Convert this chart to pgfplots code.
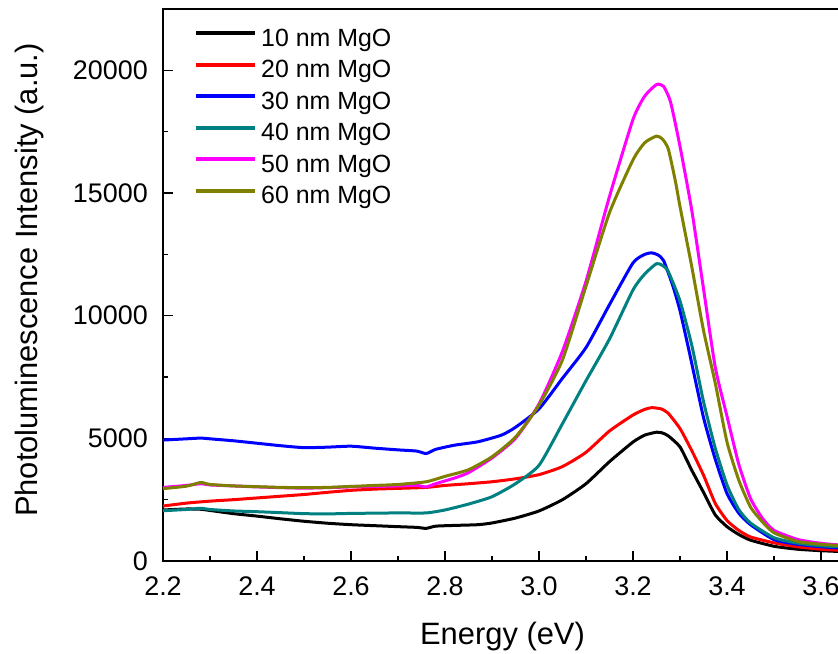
\documentclass[border=0pt]{standalone}
\usepackage{pgfplots}
\pgfplotsset{compat=1.18}
\usepackage{fontspec}
\setmainfont{Liberation Sans}
\definecolor{cteal}{RGB}{0,128,128}
\definecolor{colive}{RGB}{128,128,0}
\definecolor{cmag}{RGB}{255,0,255}
\definecolor{cred}{RGB}{255,0,0}
\definecolor{cblue}{RGB}{0,0,255}
\begin{document}
\begin{tikzpicture}
\begin{axis}[
  scale only axis,
  width=705bp, height=552bp,
  xmin=2.2, xmax=3.7, ymin=0, ymax=22500,
  xtick={2.2,2.4,2.6,2.8,3.0,3.2,3.4,3.6},
  ytick={0,5000,10000,15000,20000},
  minor x tick num=1, minor y tick num=1,
  xtick pos=left, ytick pos=left,
  tick align=inside,
  major tick length=10bp, minor tick length=5bp,
  every tick/.style={black, line width=1.5bp},
  axis line style={line width=1.8bp},
  scaled y ticks=false,
  /pgf/number format/assume math mode=true,
  tick label style={font=\fontsize{27}{30}\selectfont, inner sep=0pt},
  xticklabel style={/pgf/number format/fixed, /pgf/number format/fixed zerofill, /pgf/number format/precision=1, yshift=-16bp},
  yticklabel style={/pgf/number format/1000 sep={}, xshift=-15bp},
  every axis x label/.style={at={(axis description cs:0.4816,-0.1377)}, anchor=center, font=\fontsize{31}{36}\selectfont},
  every axis y label/.style={at={(axis description cs:-0.1887,0.509)}, rotate=90, anchor=center, font=\fontsize{31}{36}\selectfont},
  xlabel={Energy (eV)},
  ylabel={Photoluminescence Intensity (a.u.)},
  legend cell align=left,
  legend style={at={(axis description cs:0.0440,0.9656)}, anchor=north west, draw=none, fill=none, inner sep=0pt,
    font=\fontsize{25}{28}\selectfont, row sep=8.5bp, column sep=4bp,
    nodes={inner sep=0pt, text height=18bp, text depth=5bp}},
  legend image code/.code={\draw[#1, line width=4bp] (0bp,6.5bp) -- (59bp,6.5bp);},
  every axis plot/.append style={line width=3bp, line join=round, smooth, tension=0.35},
]
\coordinate (SW) at (rel axis cs:0,0);
\addplot[black] coordinates {(2.20,2080)(2.25,2120)(2.28,2110)(2.30,2060)(2.35,1930)(2.40,1830)(2.45,1720)(2.50,1620)(2.55,1540)(2.60,1480)(2.65,1440)(2.70,1400)(2.74,1370)(2.76,1330)(2.78,1420)(2.82,1450)(2.87,1480)(2.90,1550)(2.95,1750)(3.00,2040)(3.05,2500)(3.10,3150)(3.15,4050)(3.20,4850)(3.225,5130)(3.25,5250)(3.2625,5220)(3.275,5100)(3.30,4650)(3.325,3700)(3.35,2800)(3.375,1880)(3.40,1400)(3.425,1080)(3.45,850)(3.50,600)(3.55,480)(3.60,420)(3.65,380)(3.70,360)};
\addlegendentry{10 nm MgO}
\addplot[cred] coordinates {(2.20,2240)(2.25,2360)(2.30,2440)(2.35,2500)(2.40,2570)(2.45,2640)(2.50,2710)(2.55,2800)(2.60,2880)(2.65,2930)(2.70,2960)(2.76,3000)(2.80,3080)(2.85,3150)(2.90,3230)(2.95,3350)(3.00,3520)(3.05,3850)(3.10,4430)(3.15,5300)(3.20,5950)(3.225,6180)(3.24,6250)(3.26,6200)(3.275,6020)(3.30,5400)(3.325,4500)(3.35,3500)(3.375,2350)(3.40,1650)(3.425,1250)(3.45,980)(3.50,740)(3.55,580)(3.60,480)(3.65,430)(3.70,400)};
\addlegendentry{20 nm MgO}
\addplot[cblue] coordinates {(2.20,4930)(2.25,4980)(2.28,5010)(2.30,4980)(2.35,4900)(2.40,4800)(2.45,4700)(2.50,4620)(2.55,4640)(2.60,4680)(2.65,4600)(2.70,4530)(2.74,4480)(2.76,4380)(2.78,4550)(2.82,4720)(2.87,4860)(2.92,5130)(2.95,5450)(3.00,6200)(3.05,7450)(3.10,8700)(3.15,10450)(3.20,12150)(3.225,12500)(3.24,12560)(3.2525,12480)(3.265,12250)(3.285,11200)(3.30,10200)(3.32,8500)(3.35,5850)(3.375,4150)(3.40,2750)(3.425,1950)(3.45,1480)(3.50,870)(3.55,680)(3.60,580)(3.65,520)(3.70,490)};
\addlegendentry{30 nm MgO}
\addplot[cteal] coordinates {(2.20,2050)(2.25,2100)(2.28,2150)(2.30,2100)(2.35,2040)(2.40,2010)(2.45,1970)(2.50,1930)(2.55,1920)(2.60,1940)(2.65,1950)(2.70,1960)(2.76,1960)(2.80,2080)(2.85,2320)(2.90,2620)(2.95,3150)(3.00,3900)(3.05,5600)(3.10,7350)(3.15,9050)(3.20,11050)(3.225,11700)(3.25,12120)(3.2625,12050)(3.275,11800)(3.30,10600)(3.325,8800)(3.35,6500)(3.375,4600)(3.40,3100)(3.425,2100)(3.45,1550)(3.50,950)(3.55,730)(3.60,620)(3.65,570)(3.70,540)};
\addlegendentry{40 nm MgO}
\addplot[cmag] coordinates {(2.20,3000)(2.25,3080)(2.28,3150)(2.30,3100)(2.35,3060)(2.40,3020)(2.45,2990)(2.50,2970)(2.55,2990)(2.60,3020)(2.65,3040)(2.70,3060)(2.74,3080)(2.76,3020)(2.78,3150)(2.82,3380)(2.85,3600)(2.90,4200)(2.95,5000)(3.00,6400)(3.05,8550)(3.10,11400)(3.15,14860)(3.20,18000)(3.225,18950)(3.25,19420)(3.265,19350)(3.28,18700)(3.30,16900)(3.325,14300)(3.35,11100)(3.375,7900)(3.40,5900)(3.425,3950)(3.45,2550)(3.475,1750)(3.50,1250)(3.55,880)(3.60,720)(3.65,640)(3.70,600)};
\addlegendentry{50 nm MgO}
\addplot[colive] coordinates {(2.20,2950)(2.25,3050)(2.28,3200)(2.30,3120)(2.35,3060)(2.40,3030)(2.45,3000)(2.50,2990)(2.55,3000)(2.60,3040)(2.65,3080)(2.70,3120)(2.76,3230)(2.80,3450)(2.85,3720)(2.90,4250)(2.95,5050)(3.00,6350)(3.05,8200)(3.10,11200)(3.15,14200)(3.20,16350)(3.225,17050)(3.25,17320)(3.2625,17200)(3.275,16800)(3.29,15500)(3.30,14450)(3.325,12000)(3.35,9400)(3.375,7250)(3.40,4850)(3.425,3300)(3.45,2200)(3.475,1600)(3.50,1150)(3.55,800)(3.60,680)(3.65,620)(3.70,590)};
\addlegendentry{60 nm MgO}
\end{axis}
\pgfresetboundingbox
\path[use as bounding box] ([xshift=-163bp,yshift=-93bp]SW) rectangle ([xshift=675bp,yshift=561bp]SW);
\end{tikzpicture}
\end{document}
